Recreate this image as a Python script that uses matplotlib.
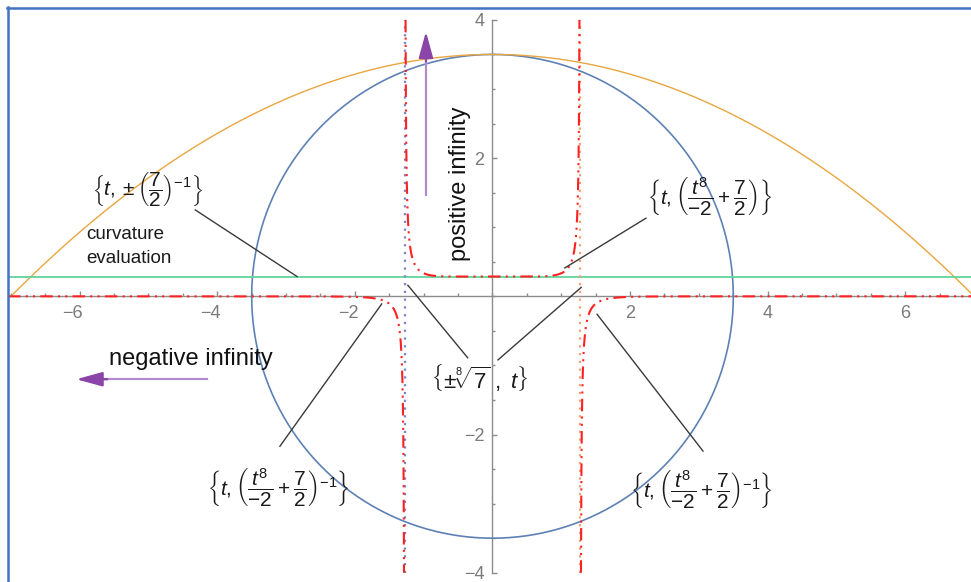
import numpy as np
import matplotlib
matplotlib.use("Agg")
import matplotlib.pyplot as plt
from matplotlib.lines import Line2D
from matplotlib.ticker import MultipleLocator
from matplotlib.transforms import ScaledTranslation

plt.rcParams['font.family'] = ['Liberation Sans', 'DejaVu Sans']
plt.rcParams['mathtext.fontset'] = 'custom'
plt.rcParams['mathtext.rm'] = 'Liberation Sans'
plt.rcParams['mathtext.it'] = 'Liberation Sans:italic'
plt.rcParams['mathtext.bf'] = 'Liberation Sans:bold'

# curve parameters
circle_radius = 3.5
parabola_peak = 3.5
parabola_root = 7.0
curvature = 1 / 3.5           # (7/2)^-1
poly_const = 7 / 2            # t^8/-2 + 7/2
poly_div = -2
root_order = 8
asymptote = 7 ** (1 / root_order)

x_major = [-6, -4, -2, 2, 4, 6]
y_major = [-4, -2, 2, 4]

fig = plt.figure(figsize=(9.71, 5.82), dpi=100)
ax = fig.add_axes([8 / 971, 0, 963 / 971, 574 / 582])
ax.set_xlim(-7.042, 6.955)
ax.set_ylim(-4.134, 4.172)

# axes through the origin
for side in ['top', 'right']:
    ax.spines[side].set_visible(False)
ax.spines['left'].set_position(('data', 0))
ax.spines['bottom'].set_position(('data', 0))
ax.spines['left'].set_bounds(-4, 4)
for side in ['left', 'bottom']:
    ax.spines[side].set_color('#8c8c8c')
    ax.spines[side].set_linewidth(1.0)
    ax.spines[side].set_zorder(1)
ax.set_xticks(x_major, labels=[f"{v}".replace('-', '\u2212') for v in x_major])
ax.set_yticks(y_major, labels=[f"{v}".replace('-', '\u2212') for v in y_major])
ax.xaxis.set_minor_locator(MultipleLocator(0.5))
ax.yaxis.set_minor_locator(MultipleLocator(0.5))
ax.tick_params(which='both', direction='in', color='#8c8c8c', width=1.0,
               labelcolor='#7a7a7a', labelsize=13)
ax.tick_params(which='major', length=3.4)
ax.tick_params(which='minor', length=2.2)
ax.tick_params(axis='x', which='major', pad=6.5)
ax.tick_params(axis='y', which='major', pad=6)
# keep the digit of negative x labels under its tick
shift = ScaledTranslation(-7 / 100, 0, fig.dpi_scale_trans)
for lab in ax.get_xticklabels():
    if lab.get_text().startswith('\u2212'):
        lab.set_transform(lab.get_transform() + shift)

# circle
th = np.linspace(0, 2 * np.pi, 721)
ax.plot(circle_radius * np.cos(th), circle_radius * np.sin(th),
        color='#5e81b5', lw=1.2, zorder=2)

# parabola
xp = np.linspace(-parabola_root, parabola_root, 400)
ax.plot(xp, parabola_peak * (1 - (xp / parabola_root) ** 2),
        color='#e8a640', lw=1.0, zorder=2)

# curvature line
ax.axhline(curvature, color='#62d49a', lw=1.3, zorder=2)

# vertical lines x = +-7^(1/8)
yv = np.array([-4, 4])
ax.plot([-asymptote, -asymptote], yv, color='#7b84c6', lw=1.6,
        ls=(0, (1, 2.5)), zorder=3)
ax.plot([asymptote, asymptote], yv, color='#f2a070', lw=1.6,
        ls=(0, (1, 2.5)), zorder=3)

# reciprocal curve, clipped to [-4, 4]
t = np.linspace(-7.1, 7.1, 40001)
edges = np.array([(2 * (poly_const - 1 / 4)) ** (1 / 8),
                  (2 * (poly_const + 1 / 4)) ** (1 / 8)])
t = np.sort(np.concatenate([t, edges, -edges]))
yr = 1 / (t ** root_order / poly_div + poly_const)
yr[np.abs(yr) > 4 + 1e-9] = np.nan
ax.plot(t, yr, color='#ff2020', lw=1.5, ls=(0, (6, 2.5, 1, 2.5, 1, 2.5)),
        zorder=4)

# labels and leaders
lead = dict(color='#3a3a3a', lw=1.0, zorder=5)
lab_kw = dict(ha='center', va='center', fontsize=15, color='#1a1a1a', zorder=6)

ax.text(-5.02, 1.54, r"$\left\{t,\pm\left(\dfrac{7}{2}\right)^{-1}\right\}$", **lab_kw)
ax.plot([-4.32, -2.84], [1.25, curvature], **lead)
ax.text(-5.91, 0.72, "curvature\nevaluation", ha='left', va='center',
        fontsize=13.5, linespacing=1.55, color='#1a1a1a')

ax.text(3.16, 1.44, r"$\left\{t,\left(\dfrac{t^{8}}{-2}+\dfrac{7}{2}\right)\right\}$", **lab_kw)
ax.plot([2.23, 1.05], [1.13, 0.41], **lead)

ax.text(-0.18, -1.18, r"$\left\{\pm\sqrt[8]{7}\ ,\ t\right\}$",
        **{**lab_kw, 'fontsize': 16})
ax.plot([-0.36, -1.23], [-0.89, 0.16], **lead)
ax.plot([0.08, 1.29], [-0.92, 0.13], **lead)

lab3 = r"$\left\{t,\left(\dfrac{t^{8}}{-2}+\dfrac{7}{2}\right)^{-1}\right\}$"
ax.text(-3.12, -2.77, lab3, **lab_kw)
ax.plot([-3.09, -1.61], [-2.17, -0.11], **lead)
ax.text(3.03, -2.80, lab3, **lab_kw)
ax.plot([3.06, 1.52], [-2.24, -0.26], **lead)

# infinity arrows
ax.text(-0.47, 1.63, "positive infinity", rotation=90, ha='center',
        va='center', fontsize=17, color='#111111')
ax.plot([-0.967, -0.967], [1.47, 3.5], color='#b08ccc', lw=1.6, zorder=5)
ax.annotate("", xy=(-0.967, 3.83), xytext=(-0.967, 3.4),
            arrowprops=dict(arrowstyle='-|>,head_length=0.8,head_width=0.22',
                            mutation_scale=20, color='#8b44a8', lw=1.6,
                            shrinkA=0, shrinkB=0), zorder=5)

ax.text(-4.38, -0.91, "negative infinity", ha='center', va='center',
        fontsize=17, color='#111111')
ax.plot([-4.15, -5.7], [-1.2, -1.2], color='#b08ccc', lw=1.6, zorder=5)
ax.annotate("", xy=(-6.05, -1.2), xytext=(-5.6, -1.2),
            arrowprops=dict(arrowstyle='-|>,head_length=0.8,head_width=0.22',
                            mutation_scale=20, color='#8b44a8', lw=1.6,
                            shrinkA=0, shrinkB=0), zorder=5)

# frame on the left and top
fig.add_artist(Line2D([7.5 / 971, 7.5 / 971], [0, 1 - 7 / 582],
                      transform=fig.transFigure, color='#4472c4', lw=1.8))
fig.add_artist(Line2D([6.6 / 971, 1], [1 - 7.5 / 582, 1 - 7.5 / 582],
                      transform=fig.transFigure, color='#4472c4', lw=1.8))

fig.savefig("out.png", dpi=100)
